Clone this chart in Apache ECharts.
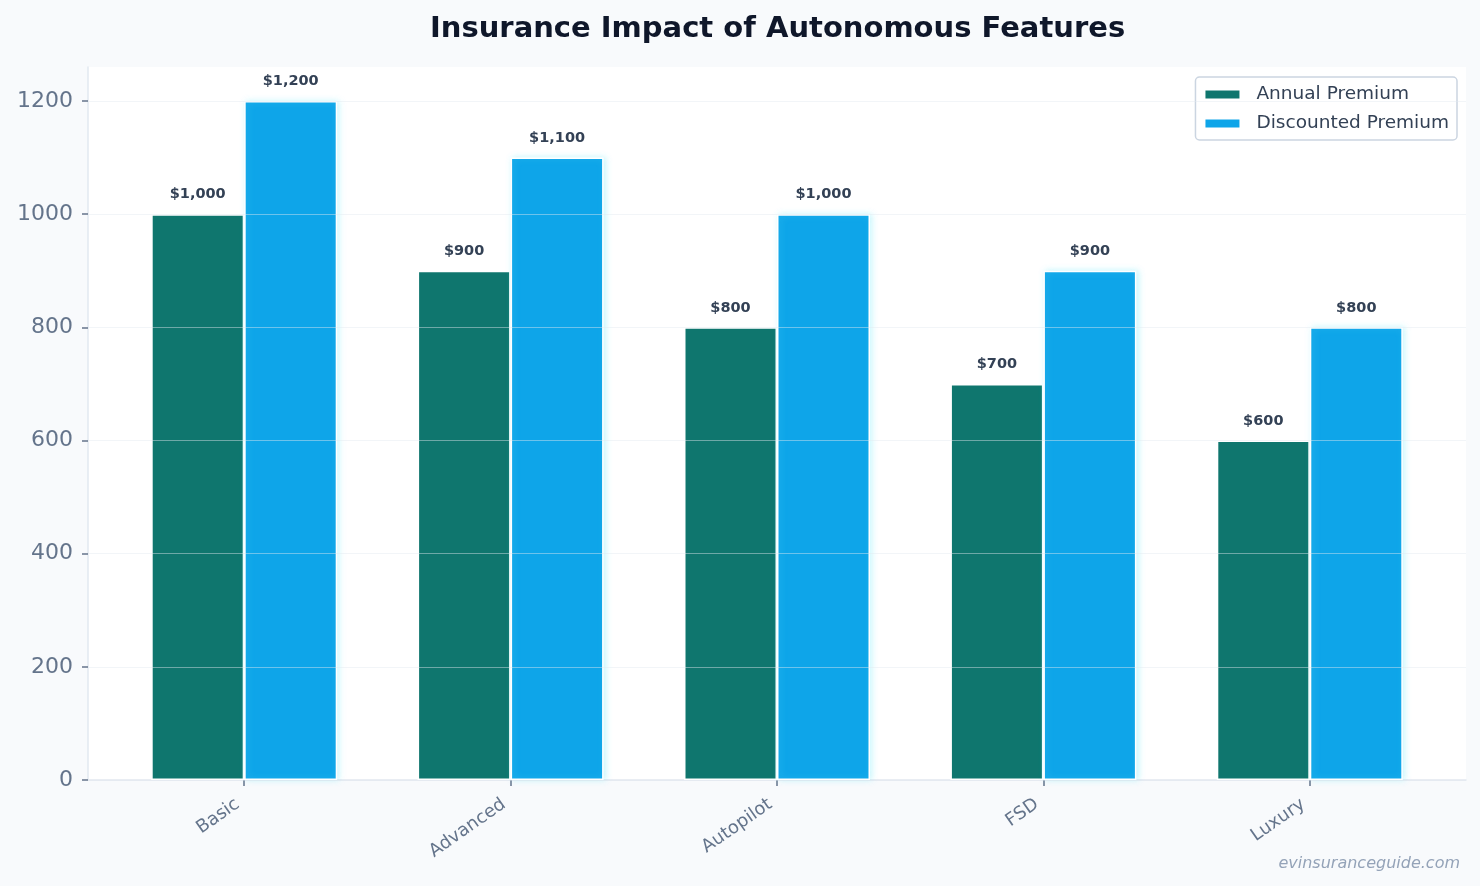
<!DOCTYPE html>
<html>
<head>
<meta charset="UTF-8">
<script src="https://cdn.jsdelivr.net/npm/echarts@6/dist/echarts.min.js"></script>
<style>
  html, body { margin: 0; padding: 0; background: #f8fafc; }
  #chart { width: 1480px; height: 886px; }
</style>
</head>
<body>
<div id="chart"></div>
<script>
  // data
  var categories = ['Basic', 'Advanced', 'Autopilot', 'FSD', 'Luxury'];
  var annualPremium = [1000, 900, 800, 700, 600];
  var discountedPremium = [1200, 1100, 1000, 900, 800];
  var yTicks = [0, 200, 400, 600, 800, 1000, 1200];

  var chart = echarts.init(document.getElementById('chart'));
  var font = 'DejaVu Sans';

  function money(p) {
    return '$' + p.value.toLocaleString('en-US');
  }

  var option = {
    backgroundColor: '#f8fafc',
    animation: false,
    textStyle: { fontFamily: font },
    title: {
      text: 'Insurance Impact of Autonomous Features',
      left: 425, top: 10,
      textStyle: { fontFamily: font, fontSize: 29, fontWeight: 'bold', color: '#0f172a' }
    },
    legend: {
      data: ['Annual Premium', 'Discounted Premium'],
      orient: 'vertical',
      right: 23, top: 77,
      padding: [8, 8, 7, 8],
      itemWidth: 36, itemHeight: 10, itemGap: 10,
      backgroundColor: '#ffffff',
      borderColor: '#cbd5e1', borderWidth: 1.5, borderRadius: 4,
      textStyle: { fontFamily: font, fontSize: 18.5, color: '#334155', padding: [0, 0, 0, 11] },
      icon: 'rect'
    },
    grid: [
      // full plot area: background, spines, y axis
      { left: 88, right: 14, top: 67, bottom: 106, show: true, backgroundColor: '#ffffff', borderWidth: 0 },
      // inner grid so that category centers line up with the reference
      { left: 111, right: 37, top: 67, bottom: 106 }
    ],
    xAxis: [
      {
        type: 'category', gridIndex: 0, data: categories,
        axisLine: { show: true, lineStyle: { color: '#e2e8f0', width: 1.5 } },
        axisTick: { show: false }, axisLabel: { show: false }, splitLine: { show: false }
      },
      {
        type: 'category', gridIndex: 1, data: categories,
        axisLine: { show: false },
        axisTick: { show: true, alignWithLabel: true, length: 6, lineStyle: { color: '#64748b', width: 1.5 } },
        axisLabel: {
          rotate: 35, margin: 18, padding: [0, 8, 0, 0],
          fontFamily: font, fontSize: 18, color: '#64748b'
        }
      }
    ],
    yAxis: [
      {
        type: 'value', gridIndex: 0, min: 0, max: 1260, interval: 200,
        z: 10,
        axisLine: { show: true, lineStyle: { color: '#e2e8f0', width: 1.5 } },
        axisTick: { show: true, length: 6, customValues: yTicks, lineStyle: { color: '#64748b', width: 1.5 } },
        axisLabel: {
          fontFamily: font, fontSize: 22, color: '#64748b', margin: 15,
          customValues: yTicks,
          formatter: function (v) { return String(v); }
        },
        splitLine: { show: true, lineStyle: { color: 'rgba(226,232,240,0.45)', width: 1.2 } }
      },
      {
        type: 'value', gridIndex: 1, min: 0, max: 1260, interval: 200,
        axisLine: { show: false }, axisTick: { show: false },
        axisLabel: { show: false }, splitLine: { show: false }
      }
    ],
    series: [
      {
        name: 'Annual Premium', type: 'bar', xAxisIndex: 1, yAxisIndex: 1,
        data: annualPremium, barWidth: 93, barGap: '0%',
        itemStyle: { color: '#0f766e', borderColor: '#ffffff', borderWidth: 1.5 },
        label: {
          show: true, position: 'top', distance: 12, formatter: money,
          fontFamily: font, fontSize: 14.5, fontWeight: 'bold', color: '#334155'
        }
      },
      {
        name: 'Discounted Premium', type: 'bar', xAxisIndex: 1, yAxisIndex: 1,
        data: discountedPremium, barWidth: 93, barGap: '0%',
        itemStyle: {
          color: '#0ea5e9', borderColor: '#ffffff', borderWidth: 1.5,
          shadowColor: 'rgba(103,232,249,0.35)', shadowBlur: 6, shadowOffsetX: 2
        },
        label: {
          show: true, position: 'top', distance: 12, formatter: money,
          fontFamily: font, fontSize: 14.5, fontWeight: 'bold', color: '#334155'
        }
      }
    ],
    graphic: [
      {
        type: 'text', right: 20, bottom: 14,
        style: {
          text: 'evinsuranceguide.com', fill: '#94a3b8',
          font: 'italic 16px "DejaVu Sans"'
        }
      }
    ]
  };

  chart.setOption(option);
</script>
</body>
</html>
